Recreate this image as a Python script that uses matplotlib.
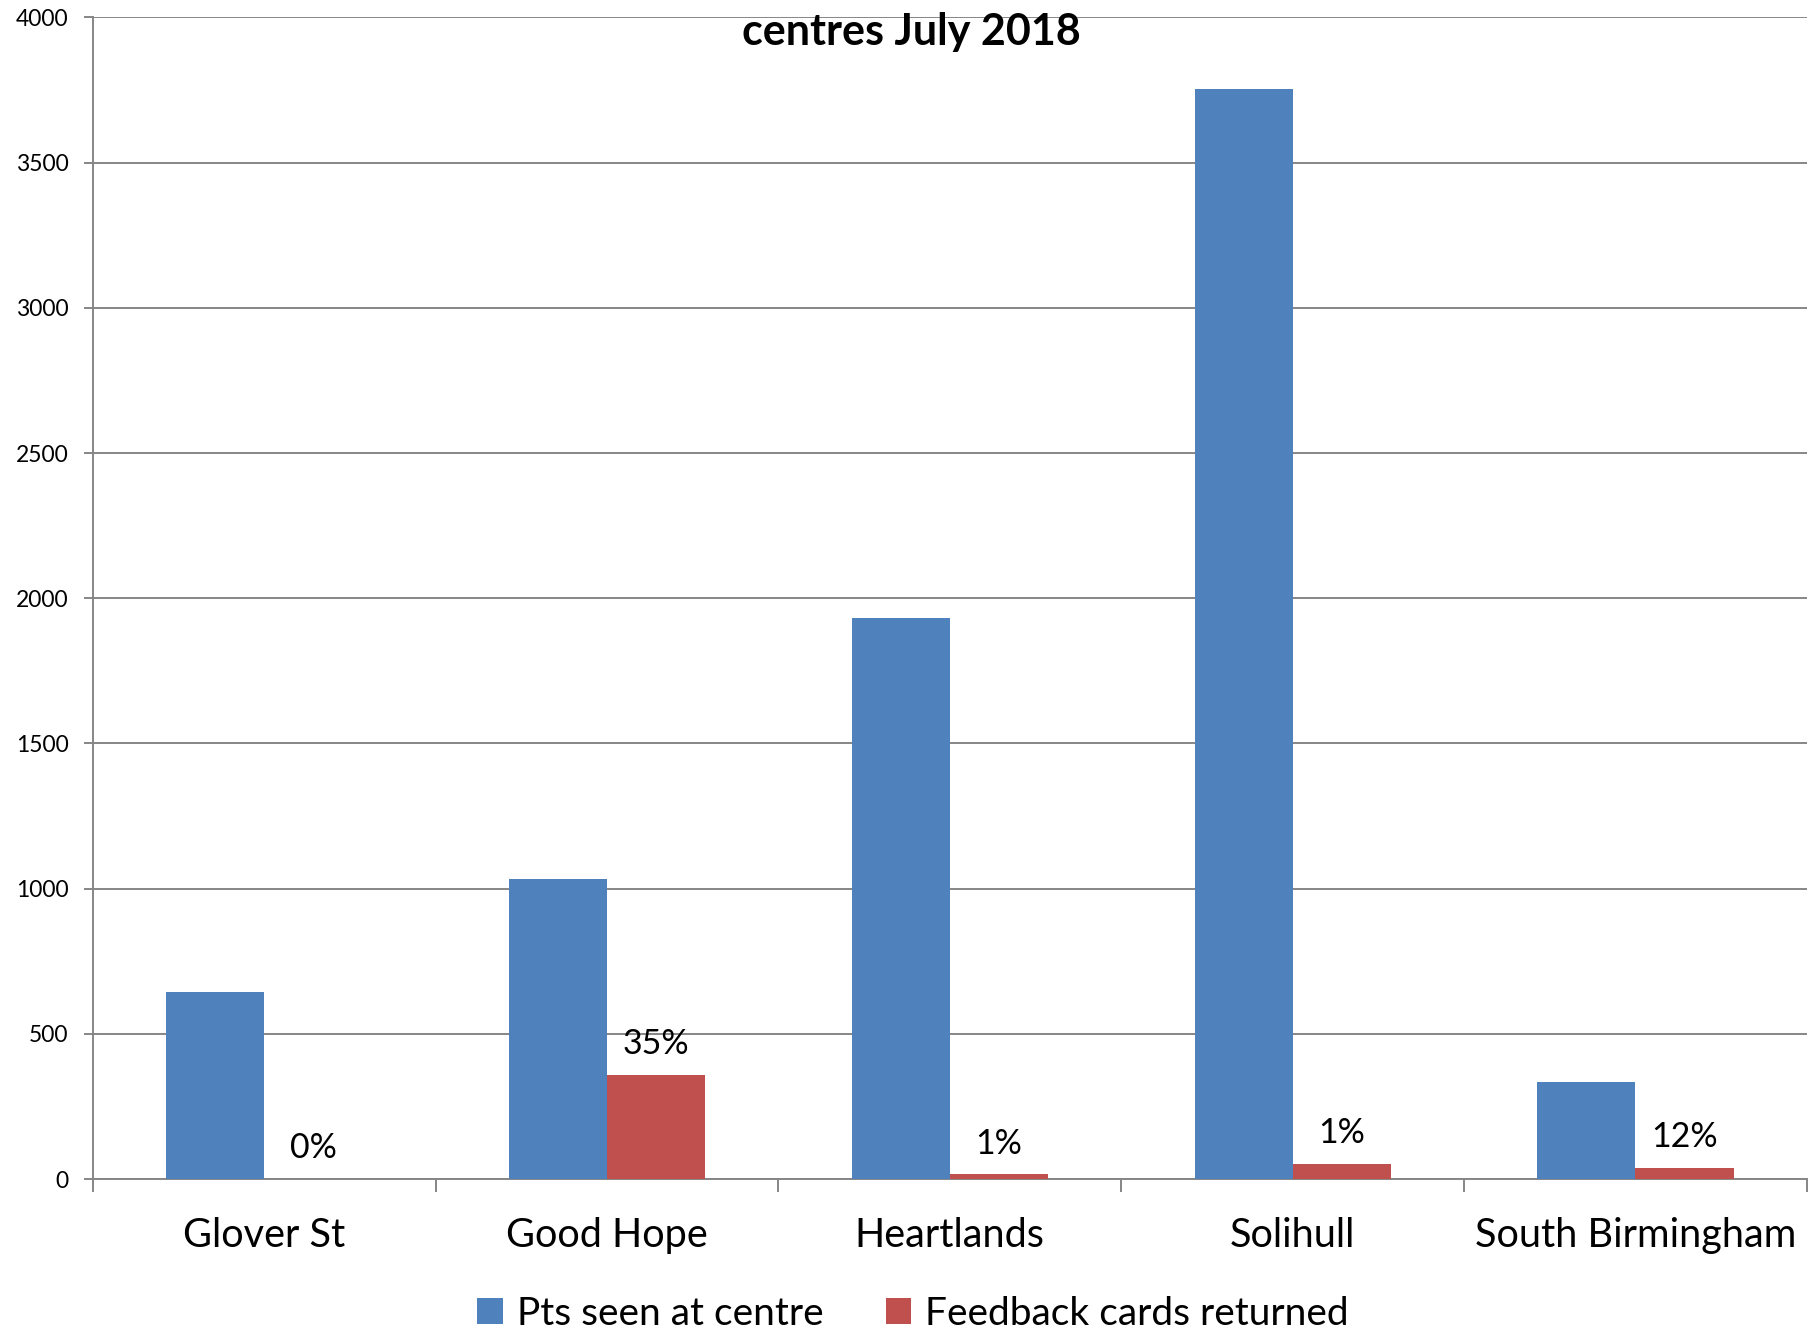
import numpy as np
import matplotlib
matplotlib.use("Agg")
import matplotlib.pyplot as plt
from matplotlib.ticker import FixedLocator

plt.rcParams['font.family'] = ['Lato', 'DejaVu Sans']

# data
centres = ['Glover St', 'Good Hope', 'Heartlands', 'Solihull', 'South Birmingham']
pts_seen = [644, 1034, 1932, 3753, 335]
cards_returned = [0, 358, 16, 53, 38]
pct_labels = ['0%', '35%', '1%', '1%', '12%']
y_ticks = [0, 500, 1000, 1500, 2000, 2500, 3000, 3500, 4000]
series_names = ['Pts seen at centre', 'Feedback cards returned']

blue = '#4F81BD'
red = '#C0504D'
grey = '#868686'

fig = plt.figure(figsize=(18.1, 13.33), dpi=100)
ax = fig.add_axes([0.0512, 0.1155, 0.9471, 0.8714])

x = np.arange(len(centres))
w = 0.286
b1 = ax.bar(x - w / 2, pts_seen, w, color=blue, label=series_names[0], zorder=3)
b2 = ax.bar(x + w / 2, cards_returned, w, color=red, label=series_names[1], zorder=3)

# percentage labels above the red bars
for xi, val, lab in zip(x, cards_returned, pct_labels):
    ax.annotate(lab, (xi + w / 2, val), xytext=(0, 15), textcoords='offset points',
                ha='center', va='baseline', fontsize=24.5)

ax.set_xlim(-0.5, len(centres) - 0.5)
ax.set_ylim(0, 4000)
ax.set_yticks(y_ticks)
ax.set_yticklabels([str(v) for v in y_ticks])
ax.yaxis.grid(True, color=grey, linewidth=1.4, zorder=0)
ax.tick_params(axis='y', length=6.5, width=1.4, color=grey, pad=11, labelsize=16.5)

ax.set_xticks(x)
ax.set_xticklabels(centres)
ax.xaxis.set_minor_locator(FixedLocator(np.arange(-0.5, len(centres), 1.0)))
ax.tick_params(axis='x', which='major', length=0, pad=27, labelsize=28.5)
ax.tick_params(axis='x', which='minor', length=9.4, width=1.4, color=grey)

for s in ['top', 'right']:
    ax.spines[s].set_visible(False)
for s in ['left', 'bottom']:
    ax.spines[s].set_color(grey)
    ax.spines[s].set_linewidth(1.4)

ax.text(0.4776, 0.9767, 'centres July 2018', transform=ax.transAxes,
        ha='center', va='baseline', fontsize=31, fontweight='bold', zorder=5)

fig.legend(handles=[b1, b2], loc='center', bbox_to_anchor=(0.5044, 0.0145),
           ncol=2, frameon=False, fontsize=28, handlelength=0.66, handleheight=0.66,
           handletextpad=0.35, columnspacing=1.6)

fig.savefig('out.png', dpi=100)
